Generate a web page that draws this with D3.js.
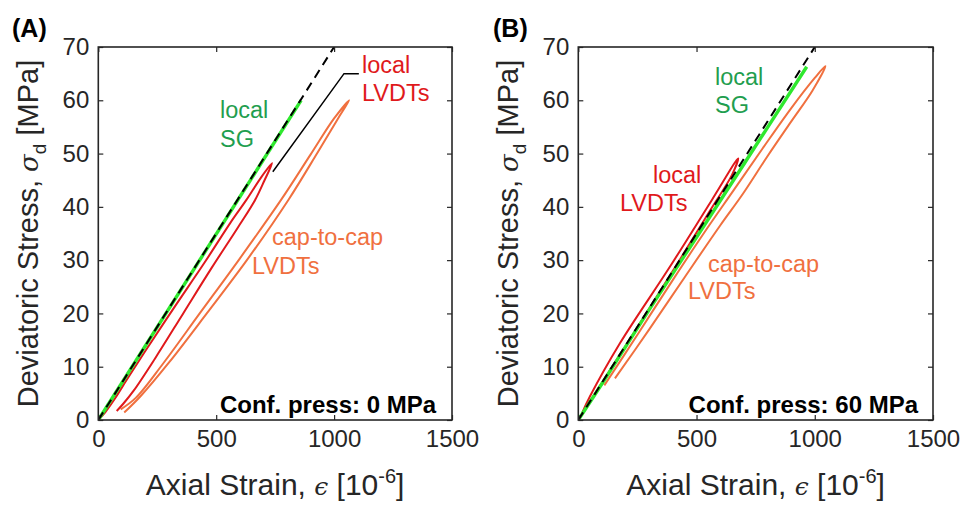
<!DOCTYPE html>
<html><head><meta charset="utf-8">
<script src="https://cdn.jsdelivr.net/npm/d3@7"></script>
<style>body{margin:0;background:#fff}svg{display:block}</style>
</head><body>
<svg id="chart" width="976" height="510"></svg>
<script>
// ---------- data ----------
const xTicks = [0, 500, 1000, 1500];
const yTicks = [0, 10, 20, 30, 40, 50, 60, 70];
const panelLabels = ["(A)", "(B)"];
const confLabels = ["Conf. press: 0 MPa", "Conf. press: 60 MPa"];

// Panel A (0 MPa)
const aFitStrain = [0, 1000];
const aFitStress = [0, 70];
const aSGStrain = [0, 860];
const aSGStress = [0, 60];
const aLocalStrain = [0, 30, 70, 120, 200, 320, 450, 560, 628, 690, 737, 705, 665, 590, 480, 360, 240, 150, 105, 78];
const aLocalStress = [0, 1.5, 4, 7.5, 13, 21, 29.5, 37, 41.3, 45.5, 48.2, 45, 41.3, 36, 28.5, 20, 11.5, 5.5, 3, 1.7];
const aCapStrain = [110, 180, 300, 460, 630, 806, 930, 1020, 1064, 1000, 900, 775, 600, 430, 275, 160, 95];
const aCapStress = [1.4, 4.5, 10.8, 20, 30, 41.3, 50.2, 56.8, 60, 56.6, 49.8, 41.3, 30.3, 20, 10.6, 4.2, 2];
const aLeaderStrain = [740, 1042, 1105];
const aLeaderStress = [46.6, 65, 65];

// Panel B (60 MPa)
const bFitStrain = [0, 1000];
const bFitStress = [0, 70];
const bSGStrain = [0, 100, 300, 500, 700, 966];
const bSGStress = [0, 6.8, 20.7, 34.3, 48, 66.3];
const bLocalStrain = [15, 49, 176, 388, 565, 676, 650, 560, 400, 210, 80, 25];
const bLocalStress = [1.2, 4.4, 14.4, 28.8, 41.3, 49.1, 46, 39.5, 28, 14.6, 5.6, 1.8];
const bCapStrain = [155, 300, 450, 600, 697, 800, 900, 990, 1045, 1000, 900, 780, 655, 530, 400, 250, 110];
const bCapStress = [7.8, 17, 26.8, 36.5, 42.5, 49.5, 56, 61.8, 66.4, 64.2, 58.5, 51, 43, 35, 26.3, 16, 6.5];

// ---------- drawing ----------
const svg = d3.select("#chart");
const FONT = "'Liberation Sans', Arial, Helvetica, sans-serif";
const AX = "#262626";
const C_SG = "#2ee82e", C_SGTXT = "#1f9e4f", C_RED = "#e0191c", C_ORG = "#f0703f";

const panels = [
  {x0: 98.3, x1: 452, lab: panelLabels[0], labX: 12, conf: confLabels[0], confX: 436,
   fit: [aFitStrain, aFitStress], sg: [aSGStrain, aSGStress], loc: [aLocalStrain, aLocalStress],
   cap: [aCapStrain, aCapStress], leader: [aLeaderStrain, aLeaderStress],
   texts: [
     {t: "local", x: 220, y: 118, c: C_SGTXT}, {t: "SG", x: 220, y: 147, c: C_SGTXT},
     {t: "local", x: 362, y: 73, c: C_RED}, {t: "LVDTs", x: 362, y: 101, c: C_RED},
     {t: "cap-to-cap", x: 272, y: 245, c: C_ORG}, {t: "LVDTs", x: 252, y: 274, c: C_ORG}]},
  {x0: 578.3, x1: 933, lab: panelLabels[1], labX: 493, conf: confLabels[1], confX: 918,
   fit: [bFitStrain, bFitStress], sg: [bSGStrain, bSGStress], loc: [bLocalStrain, bLocalStress],
   cap: [bCapStrain, bCapStress], leader: null,
   texts: [
     {t: "local", x: 715, y: 85, c: C_SGTXT}, {t: "SG", x: 715, y: 113, c: C_SGTXT},
     {t: "local", x: 653, y: 183, c: C_RED}, {t: "LVDTs", x: 620, y: 211, c: C_RED},
     {t: "cap-to-cap", x: 708, y: 272, c: C_ORG}, {t: "LVDTs", x: 688, y: 299, c: C_ORG}]}
];

const yTop = 47, yBot = 420;

panels.forEach(p => {
  const x = d3.scaleLinear().domain([0, 1500]).range([p.x0, p.x1]);
  const y = d3.scaleLinear().domain([0, 70]).range([yBot, yTop]);
  const g = svg.append("g");
  const clipId = "clip" + p.lab.replace(/\W/g, "");
  g.append("clipPath").attr("id", clipId).append("rect")
    .attr("x", p.x0).attr("y", yTop).attr("width", p.x1 - p.x0).attr("height", yBot - yTop);
  const line = d3.line().x(d => x(d[0])).y(d => y(d[1])).curve(d3.curveCatmullRom.alpha(0.5));
  const straight = d3.line().x(d => x(d[0])).y(d => y(d[1]));
  const zip = a => a[0].map((v, i) => [v, a[1][i]]);
  const plot = g.append("g").attr("clip-path", `url(#${clipId})`);

  plot.append("path").attr("d", line(zip(p.cap))).attr("fill", "none")
    .attr("stroke", C_ORG).attr("stroke-width", 2).attr("stroke-linejoin", "round");
  plot.append("path").attr("d", line(zip(p.loc))).attr("fill", "none")
    .attr("stroke", C_RED).attr("stroke-width", 2).attr("stroke-linejoin", "round");
  plot.append("path").attr("d", line(zip(p.sg))).attr("fill", "none")
    .attr("stroke", C_SG).attr("stroke-width", 3.4);
  plot.append("path").attr("d", straight(zip(p.fit))).attr("fill", "none")
    .attr("stroke", "#000").attr("stroke-width", 2).attr("stroke-dasharray", "9,6");
  if (p.leader) {
    g.append("path").attr("d", straight(zip(p.leader))).attr("fill", "none")
      .attr("stroke", "#000").attr("stroke-width", 1.5);
  }

  // axes (MATLAB-style box with inward ticks)
  const ax = g.append("g").attr("font-family", FONT);
  const styleAxis = sel => {
    sel.select(".domain").remove();
    sel.selectAll(".tick line").attr("stroke", AX).attr("stroke-width", 1.2);
    sel.selectAll(".tick text").attr("fill", AX).attr("font-size", 24).attr("font-family", FONT);
  };
  ax.append("g").attr("transform", `translate(0,${yBot})`)
    .call(d3.axisBottom(x).tickValues(xTicks).tickSizeInner(-5).tickSizeOuter(0).tickPadding(10).tickFormat(d3.format("d")))
    .call(styleAxis);
  ax.append("g").attr("transform", `translate(0,${yTop})`)
    .call(d3.axisTop(x).tickValues(xTicks).tickSizeInner(-5).tickSizeOuter(0).tickFormat(""))
    .call(styleAxis);
  ax.append("g").attr("transform", `translate(${p.x0},0)`)
    .call(d3.axisLeft(y).tickValues(yTicks).tickSizeInner(-5).tickSizeOuter(0).tickPadding(9).tickFormat(d3.format("d")))
    .call(styleAxis);
  ax.append("g").attr("transform", `translate(${p.x1},0)`)
    .call(d3.axisRight(y).tickValues(yTicks).tickSizeInner(-5).tickSizeOuter(0).tickFormat(""))
    .call(styleAxis);
  g.append("rect").attr("x", p.x0).attr("y", yTop).attr("width", p.x1 - p.x0).attr("height", yBot - yTop)
    .attr("fill", "none").attr("stroke", AX).attr("stroke-width", 1.6);

  // annotations
  p.texts.forEach(t => g.append("text").attr("x", t.x).attr("y", t.y).text(t.t)
    .attr("fill", t.c).attr("font-size", 23.5).attr("font-family", FONT));
  g.append("text").attr("x", p.confX).attr("y", 413).attr("text-anchor", "end")
    .attr("font-size", 24).attr("font-weight", "bold").attr("font-family", FONT).attr("fill", "#000").text(p.conf);
  g.append("text").attr("x", p.labX).attr("y", 37).attr("font-size", 25).attr("font-weight", "bold")
    .attr("font-family", FONT).attr("fill", "#000").text(p.lab);

  // axis titles
  const xc = (p.x0 + p.x1) / 2;
  const xt = g.append("text").attr("x", xc).attr("y", 495).attr("text-anchor", "middle")
    .attr("font-size", 30).attr("font-family", FONT).attr("fill", AX);
  xt.append("tspan").text("Axial Strain, ");
  xt.append("tspan").text("\u03F5").attr("font-family", "'DejaVu Serif', serif").attr("font-style", "italic").attr("font-size", 25);
  xt.append("tspan").text(" [10");
  xt.append("tspan").text("-6").attr("font-size", 20).attr("dy", -12);
  xt.append("tspan").text("]").attr("dy", 12);

  const yc = (yTop + yBot) / 2;
  const lx = p.x0 - 60;
  const yt = g.append("text").attr("transform", `translate(${lx},${yc}) rotate(-90)`)
    .attr("text-anchor", "middle").attr("font-size", 29).attr("font-family", FONT).attr("fill", AX);
  yt.append("tspan").text("Deviatoric Stress, ");
  yt.append("tspan").text("\u03C3").attr("font-family", "'DejaVu Serif', serif").attr("font-style", "italic").attr("font-size", 26);
  yt.append("tspan").text("d").attr("font-size", 19).attr("dy", 8);
  yt.append("tspan").text(" [MPa]").attr("dy", -8);
});
</script>
</body></html>
